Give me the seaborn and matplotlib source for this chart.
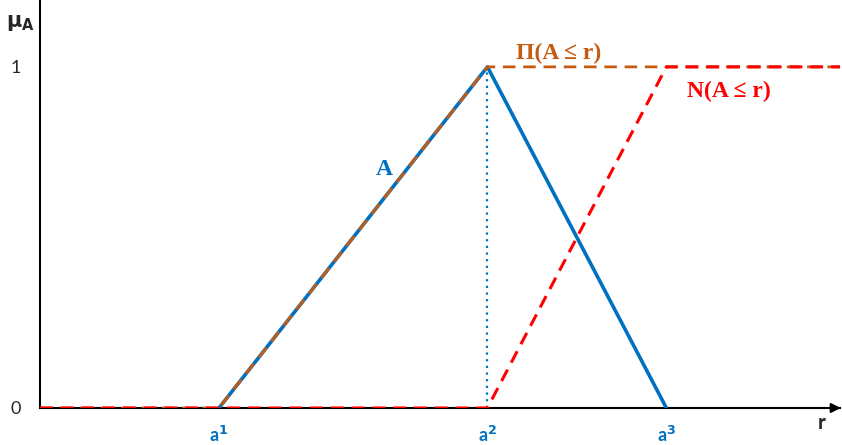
import matplotlib
matplotlib.use("Agg")
import matplotlib.pyplot as plt
import seaborn as sns
import pandas as pd

# Triangular fuzzy number A = (a1, a2, a3) on the r axis
r_points_A = [2, 5, 7]
mu_A = [0, 1, 0]

# Possibility Π(A ≤ r)
r_points_pi = [0, 2, 5, 9]
mu_pi = [0, 0, 1, 1]

# Necessity N(A ≤ r)
r_points_n = [0, 5, 7, 9]
mu_n = [0, 0, 1, 1]

tick_positions = [2, 5, 7]
tick_labels = ["a$^\\mathbf{1}$", "a$^\\mathbf{2}$", "a$^\\mathbf{3}$"]

BLUE = "#0070C0"
ORANGE = "#C55A11"
RED = "#FF0000"

sns.set_style("white")
plt.rcParams["font.family"] = ["Lato", "DejaVu Sans"]

fig = plt.figure(figsize=(8.42, 4.45), dpi=100)
ax = fig.add_axes([40 / 842, 37 / 445, 800 / 842, 408 / 445])

dfA = pd.DataFrame({"r": r_points_A, "mu": mu_A})
dfP = pd.DataFrame({"r": r_points_pi, "mu": mu_pi})
dfN = pd.DataFrame({"r": r_points_n, "mu": mu_n})

sns.lineplot(data=dfA, x="r", y="mu", ax=ax, color=BLUE, lw=2.6, zorder=3)
# core of A
ax.plot([5, 5], [0, 1], color=BLUE, lw=1.6, ls=(0, (1, 2.0)), zorder=2)
sns.lineplot(data=dfP, x="r", y="mu", ax=ax, color=ORANGE, lw=2.0,
             zorder=4).lines[-1].set_dashes([4.5, 2.8])
sns.lineplot(data=dfN, x="r", y="mu", ax=ax, color=RED, lw=2.2,
             zorder=5).lines[-1].set_dashes([4.2, 2.6])

ax.set_xlim(0, 8.94)
ax.set_ylim(0, 1.196)
ax.set_xlabel("")
ax.set_ylabel("")

for s in ["top", "right"]:
    ax.spines[s].set_visible(False)
for s in ["left", "bottom"]:
    ax.spines[s].set_color("black")
    ax.spines[s].set_linewidth(1.5)
    ax.spines[s].set_zorder(1)

ax.set_yticks([0, 1])
ax.set_yticklabels(["0", "1"], fontsize=13)
ax.set_xticks(tick_positions)
ax.set_xticklabels(tick_labels, fontsize=13, fontweight="bold", color=BLUE)
ax.tick_params(axis="both", length=0)
ax.tick_params(axis="y", pad=14)
ax.tick_params(axis="x", pad=12)

# arrow head on the r axis
ax.annotate("", xy=(8.98, 0), xytext=(8.83, 0),
            arrowprops=dict(arrowstyle="-|>", color="black", lw=1.5,
                            mutation_scale=14),
            annotation_clip=False)

fig.text(822 / 842, 1 - 423 / 445, "r", fontsize=15, fontweight="bold",
         ha="center", va="center")
fig.text(20 / 842, 1 - 23 / 445, r"$\mathbf{\mu}_{\mathbf{A}}$", fontsize=15,
         ha="center", va="center")

serif = ["Liberation Serif", "DejaVu Serif"]
ax.text(5.8, 1.04, "Π(A ≤ r)", color=ORANGE, fontsize=17, fontweight="bold",
        family=serif, ha="center", va="center")
ax.text(7.7, 0.927, "N(A ≤ r)", color=RED, fontsize=17, fontweight="bold",
        family=serif, ha="center", va="center")
ax.text(3.85, 0.70, "A", color=BLUE, fontsize=17, fontweight="bold",
        family=serif, ha="center", va="center")

fig.savefig("out.png", dpi=100)
